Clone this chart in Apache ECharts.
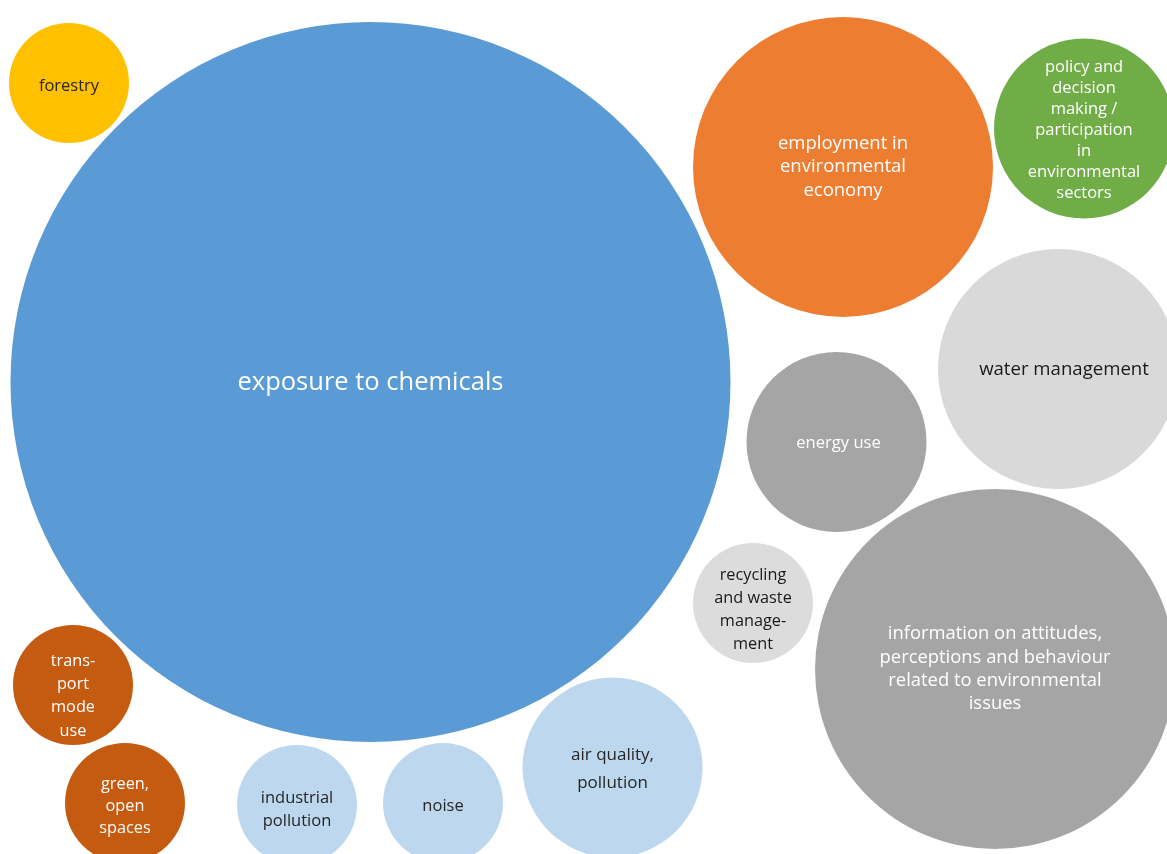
<!DOCTYPE html>
<html>
<head>
<meta charset="utf-8">
<script src="https://cdn.jsdelivr.net/npm/echarts@6/dist/echarts.min.js"></script>
<style>
html,body{margin:0;padding:0;background:#fff;}
#chart{width:1167px;height:854px;}
</style>
</head>
<body>
<div id="chart"></div>
<script>
// ---- data ----
const names = [
  "forestry",
  "exposure to chemicals",
  "employment in environmental economy",
  "policy and decision making / participation in environmental sectors",
  "water management",
  "energy use",
  "recycling and waste management",
  "information on attitudes, perceptions and behaviour related to environmental issues",
  "transport mode use",
  "green, open spaces",
  "industrial pollution",
  "noise",
  "air quality, pollution"
];
const labelTexts = [
  "forestry",
  "exposure to chemicals",
  "employment in\nenvironmental\neconomy",
  "policy and\ndecision\nmaking /\nparticipation\nin\nenvironmental\nsectors",
  "water management",
  "energy use",
  "recycling\nand waste\nmanage-\nment",
  "information on attitudes,\nperceptions and behaviour\nrelated to environmental\nissues",
  "trans-\nport\nmode\nuse",
  "green,\nopen\nspaces",
  "industrial\npollution",
  "noise",
  "air quality,\npollution"
];
const xValues = [0.69, 3.705, 8.43, 10.84, 10.58, 8.365, 7.53, 9.95, 0.73, 1.25, 2.97, 4.43, 6.125];
const yValues = [7.71, 4.72, 6.87, 7.255, 4.85, 4.12, 2.51, 1.85, 1.69, 0.51, 0.49, 0.51, 0.865];
const bubbleSizes = [4, 144, 25, 9, 16, 9, 4, 36, 4, 4, 4, 4, 9];

// ---- styles ----
const fills = ["#FFC000", "#5B9BD5", "#ED7D31", "#70AD47", "#D9D9D9", "#A5A5A5", "#DCDCDC", "#A5A5A5", "#C55A11", "#C55A11", "#BDD7EE", "#BDD7EE", "#BDD7EE"];
const textColors = ["#262626", "#FFFFFF", "#FFFFFF", "#FFFFFF", "#1a1a1a", "#FFFFFF", "#1a1a1a", "#FFFFFF", "#FFFFFF", "#FFFFFF", "#262626", "#262626", "#262626"];
const fontSizes = [16.5, 25.5, 18.5, 16.5, 18.6, 16.6, 16.3, 18.4, 16.3, 16.3, 16.5, 16.5, 17];
const lineHeights = [20, 26, 23.5, 21, 22, 20, 23, 23.3, 23.3, 22, 23, 20, 28];
const labelOffsets = [[0,3],[0,1],[0,0],[0,1.5],[6,1],[2,1],[0,7],[0,0],[0,11],[0,3],[0,5],[0,3],[0,2]];

const UNIT = 60; // diameter per sqrt(size)

const data = names.map((n, i) => ({
  name: n,
  value: [xValues[i], yValues[i], bubbleSizes[i]],
  itemStyle: { color: fills[i], opacity: 1 },
  label: {
    formatter: labelTexts[i],
    color: textColors[i],
    fontSize: fontSizes[i],
    lineHeight: lineHeights[i],
    offset: labelOffsets[i]
  }
}));

const chart = echarts.init(document.getElementById('chart'), null, { renderer: 'canvas' });
chart.setOption({
  animation: false,
  backgroundColor: '#ffffff',
  grid: { left: 0, right: 0, top: 0, bottom: 0, containLabel: false },
  xAxis: { type: 'value', min: 0, max: 11.67, show: false, splitLine: { show: false } },
  yAxis: { type: 'value', min: 0, max: 8.54, show: false, splitLine: { show: false } },
  series: [{
    type: 'scatter',
    clip: false,
    data: data,
    symbol: 'circle',
    symbolSize: v => UNIT * Math.sqrt(v[2]),
    itemStyle: { opacity: 1 },
    label: {
      show: true,
      position: 'inside',
      align: 'center',
      verticalAlign: 'middle',
      fontFamily: '"Open Sans", "DejaVu Sans", sans-serif',
      fontWeight: 'normal'
    },
    emphasis: { disabled: true }
  }]
});
</script>
</body>
</html>
